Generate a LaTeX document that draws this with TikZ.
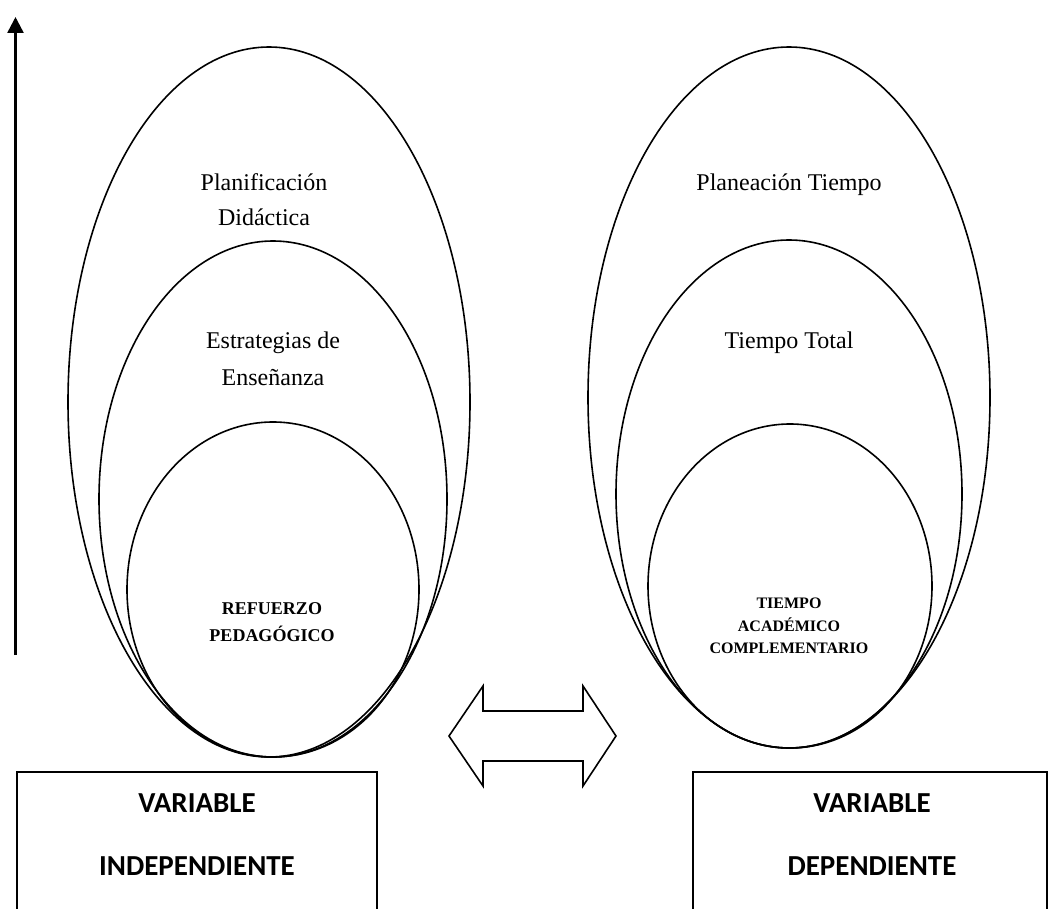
\documentclass[tikz,border=0pt]{standalone}
\usepackage{fontspec}
\setmainfont{Liberation Serif}
\newfontfamily\boxfont{Carlito}
\usetikzlibrary{shapes.geometric,arrows.meta}
\begin{document}
\begin{tikzpicture}[x=1pt,y=-1pt,
  ell/.style={draw, ellipse, line width=1.6pt, inner sep=0pt, outer sep=0pt},
  lbl/.style={font=\fontsize{24}{28}\selectfont, anchor=base, inner sep=0pt},
  bl/.style={font=\bfseries\fontsize{18}{22}\selectfont, anchor=base, inner sep=0pt},
  br/.style={font=\bfseries\fontsize{16}{19}\selectfont, anchor=base, inner sep=0pt},
  vbox/.style={draw, line width=1.5pt, anchor=north west, inner sep=0pt, outer sep=0pt},
  vtxt/.style={font=\boxfont\bfseries\fontsize{29}{34}\selectfont, anchor=base, inner sep=0pt},
  darrow/.style={draw, line width=1.6pt, line join=miter}]
\useasboundingbox (0,0) rectangle (1049,909);

% left ellipses
\node[ell, minimum width=402pt, minimum height=710pt] (lout) at (269,402) {};
\node[ell, minimum width=348pt, minimum height=516pt] (lmid) at (273,499) {};
\node[ell, minimum width=292pt, minimum height=335pt] (lin) at (273,589.5) {};

% right ellipses
\node[ell, minimum width=402pt, minimum height=701pt] (rout) at (789,397.5) {};
\node[ell, minimum width=346pt, minimum height=508pt] (rmid) at (789,494) {};
\node[ell, minimum width=284pt, minimum height=324pt] (rin) at (790,586) {};

% left texts
\node[lbl] (t1a) at (264,191) {Planificación};
\node[lbl] (t1b) at (264,226) {Didáctica};
\node[lbl] (t2a) at (273,348) {Estrategias de};
\node[lbl] (t2b) at (273,385) {Enseñanza};
\node[bl] (t3a) at (272,614) {REFUERZO};
\node[bl] (t3b) at (272,641) {PEDAGÓGICO};

% right texts
\node[lbl] (r1) at (789,191) {Planeación Tiempo};
\node[lbl] (r2) at (789,348) {Tiempo Total};
\node[br] (r3a) at (789,608) {TIEMPO};
\node[br] (r3b) at (789,631) {ACADÉMICO};
\node[br] (r3c) at (789,653) {COMPLEMENTARIO};

% boxes
\node[vbox, minimum width=360pt, minimum height=170pt] (lbox) at (17,772) {};
\node[vbox, minimum width=354pt, minimum height=170pt] (rbox) at (693,772) {};
\node[vtxt] (lv1) at (197,812) {VARIABLE};
\node[vtxt] (lv2) at (197,875) {INDEPENDIENTE};
\node[vtxt] (rv1) at (872,812) {VARIABLE};
\node[vtxt] (rv2) at (872,875) {DEPENDIENTE};

% double arrow
\draw[darrow] (449,736) -- (483,686) -- (483,711) -- (583,711) -- (583,686) -- (616,736)
  -- (583,786) -- (583,761) -- (483,761) -- (483,786) -- cycle;

% vertical arrow
\coordinate (vbot) at (15.5,655);
\coordinate (vtop) at (15.5,17);
\draw[line width=2.5pt, -{Triangle[width=16pt,length=16pt]}] (vbot) -- (vtop);
\end{tikzpicture}
\end{document}
